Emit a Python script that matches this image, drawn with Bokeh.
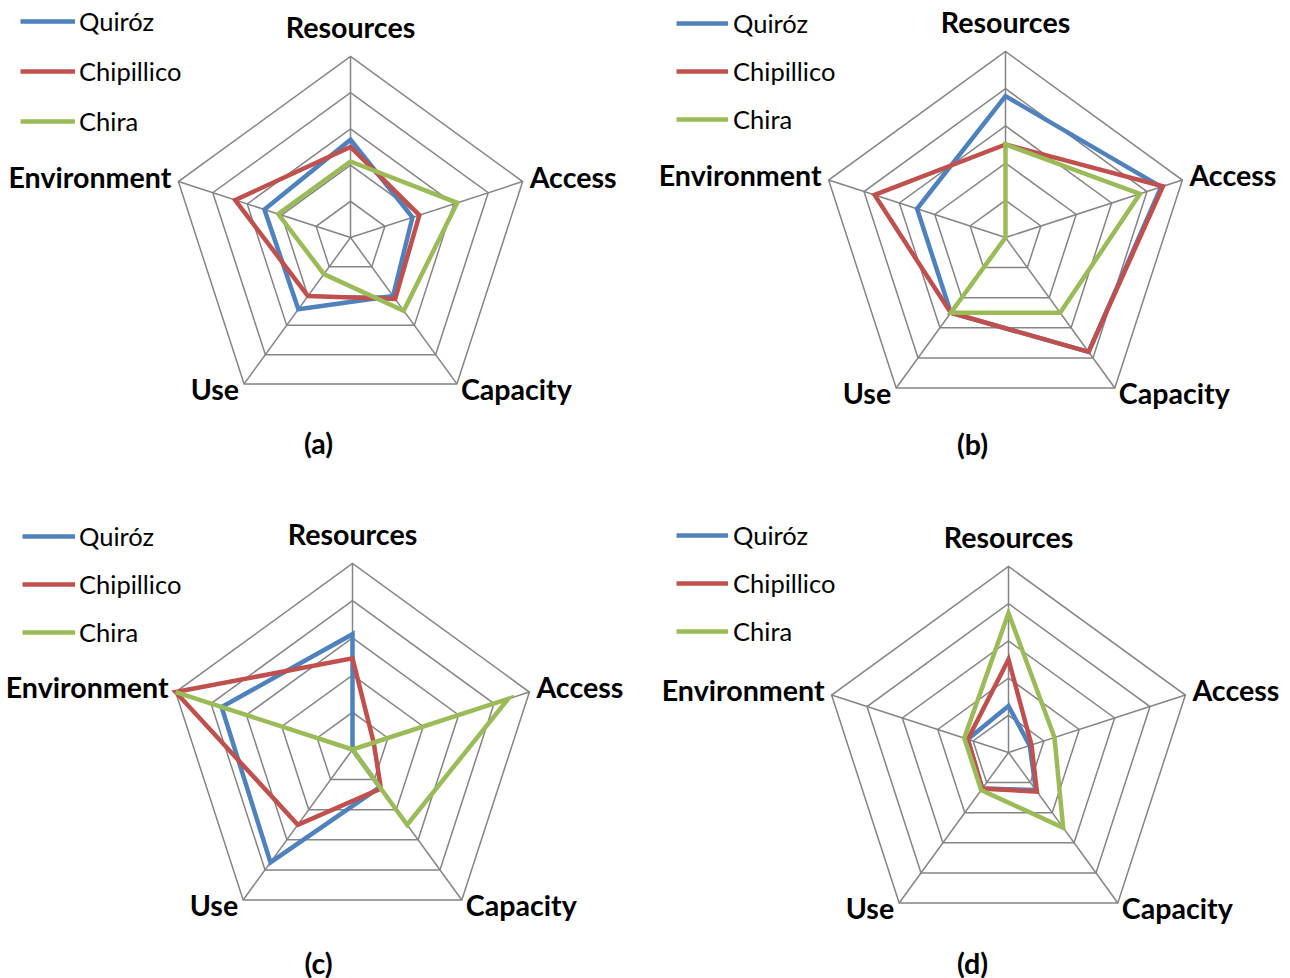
import math
from bokeh.plotting import figure
from bokeh.layouts import gridplot
from bokeh.models import Range1d, Legend, LegendItem, Label
from bokeh.core.properties import value
from bokeh.embed import file_html
from bokeh.resources import INLINE

# ---------------- data ----------------
categories = ["Resources", "Access", "Capacity", "Use", "Environment"]
series_names = ["Quiróz", "Chipillico", "Chira"]
ring_ticks = [1, 2, 3, 4, 5]
scale_max = 5
panel_labels = ["(a)", "(b)", "(c)", "(d)"]

a_quiroz = [2.7, 1.8, 2.0, 2.45, 2.5]
a_chipillico = [2.5, 2.0, 2.1, 2.0, 3.35]
a_chira = [2.1, 3.1, 2.5, 1.25, 2.1]

b_quiroz = [3.8, 4.4, 3.8, 2.5, 2.5]
b_chipillico = [2.5, 4.45, 3.8, 2.5, 3.7]
b_chira = [2.5, 3.8, 2.5, 2.5, 0.0]

c_quiroz = [3.1, 0.0, 1.25, 3.75, 3.7]
c_chipillico = [2.45, 0.6, 1.3, 2.5, 5.0]
c_chira = [0.0, 4.4, 2.5, 0.0, 5.0]

d_quiroz = [1.25, 0.6, 1.25, 1.2, 1.15]
d_chipillico = [2.5, 0.65, 1.3, 1.2, 1.15]
d_chira = [3.75, 1.3, 2.5, 1.25, 1.25]

# ---------------- style / layout ----------------
series_colors = ["#4F81BD", "#C0504D", "#9BBB59"]
GRID = "#848484"
FONT = "Lato"
W, H = 645, 489

# positions are page pixels (top-left origin)
layout = [
    dict(vals=[a_quiroz, a_chipillico, a_chira], origin=(0, 0), center=(350, 237), R=181,
         sub=(318, 442), leg=(20, 21, 50, 55, 4)),
    dict(vals=[b_quiroz, b_chipillico, b_chira], origin=(645, 0), center=(1005, 237), R=186,
         sub=(972, 443), leg=(676, 23, 48, 52, 5)),
    dict(vals=[c_quiroz, c_chipillico, c_chira], origin=(0, 489), center=(352, 749), R=186,
         sub=(318, 962), leg=(22, 536, 48, 53, 4)),
    dict(vals=[d_quiroz, d_chipillico, d_chira], origin=(645, 489), center=(1008, 752), R=186,
         sub=(972, 962), leg=(676, 535, 48, 52, 5)),
]

# label offsets (px) relative to each outer vertex: dx, dy(up), align
TXT_SHIFT = 11
label_place = [(0, 30, "center"), (7, 5, "left"), (4, -5, "left"),
               (-5, -5, "right"), (-7, 5, "right")]

ROW_H = 34


def make_panel(vals, sub_text, origin, center, R, sub, leg):
    ox, oy = origin
    cx, cy = center
    p = figure(width=W, height=H,
               x_range=Range1d(ox - cx, ox + W - cx),
               y_range=Range1d(cy - (oy + H), cy - oy),
               output_backend="svg", toolbar_location=None, min_border=0,
               x_axis_type=None, y_axis_type=None)
    p.outline_line_color = None
    p.background_fill_color = "white"
    p.border_fill_color = "white"

    n = len(categories)
    ang = [2 * math.pi * i / n for i in range(n)]

    def pt(v, i):
        r = v / scale_max * R
        return r * math.sin(ang[i]), r * math.cos(ang[i])

    # spokes
    sx, sy = [], []
    for i in range(n):
        x1, y1 = pt(scale_max, i)
        sx.append([0, x1])
        sy.append([0, y1])
    p.multi_line(sx, sy, line_color=GRID, line_width=1.5)

    # rings
    rx, ry = [], []
    for t in ring_ticks:
        pts = [pt(t, i) for i in list(range(n)) + [0, 1]]
        rx.append([q[0] for q in pts])
        ry.append([q[1] for q in pts])
    p.multi_line(rx, ry, line_color=GRID, line_width=1.5, line_join="miter")

    # series
    items = []
    for vs, name, col in zip(vals, series_names, series_colors):
        idx = list(range(n)) + [0, 1]
        pts = [pt(vs[i], i) for i in idx]
        r = p.line([q[0] for q in pts], [q[1] for q in pts], line_color=col,
                   line_width=4.5, line_join="miter")
        items.append(LegendItem(label=name, renderers=[r]))

    # category labels
    for i, cat in enumerate(categories):
        vx, vy = pt(scale_max, i)
        dx, dy, al = label_place[i]
        p.text(x=[vx + dx], y=[vy + dy], text=[cat], text_font=value(FONT),
               text_font_style="bold", text_font_size="28.6px", text_align=al,
               text_baseline="middle", text_color="black")

    # sub-caption
    p.add_layout(Label(x=sub[0] - cx, y=cy - sub[1], text=sub_text, text_align="center",
                       text_baseline="middle", text_font=FONT, text_font_style="bold",
                       text_font_size="28.6px", text_color="black"))

    # legend
    lx, row1, pitch, gw, stand = leg
    lx = lx - ox
    row1 = row1 - oy
    spacing = pitch - ROW_H
    top = row1 - ROW_H / 2
    height = 3 * ROW_H + 2 * spacing
    vy_loc = H - (top + height)
    legend = Legend(items=items, location=(lx, vy_loc), orientation="vertical",
                    glyph_width=gw, glyph_height=ROW_H, label_height=ROW_H,
                    label_standoff=stand, spacing=spacing, padding=0, margin=0,
                    border_line_alpha=0, background_fill_alpha=0,
                    label_text_font=FONT, label_text_font_size="25.5px",
                    label_text_color="black")
    p.add_layout(legend)
    return p


figs = [make_panel(d["vals"], lab, d["origin"], d["center"], d["R"], d["sub"], d["leg"])
        for d, lab in zip(layout, panel_labels)]

grid = gridplot([[figs[0], figs[1]], [figs[2], figs[3]]], toolbar_location=None)

open("out.html", "w").write(file_html(grid, INLINE))
